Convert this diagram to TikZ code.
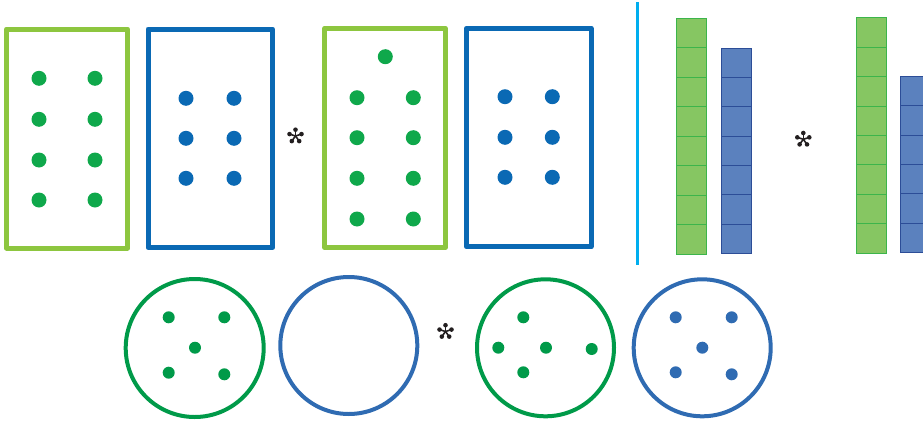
\documentclass[tikz,border=0pt]{standalone}
\definecolor{lgreen}{HTML}{8DC63F}
\definecolor{dgreen}{HTML}{0FA84B}
\definecolor{cgreen}{HTML}{009A49}
\definecolor{rblue}{HTML}{0A69B4}
\definecolor{cblue}{HTML}{2F6BB2}
\definecolor{divblue}{HTML}{00AEEF}
\definecolor{bgfill}{HTML}{86C662}
\definecolor{bgline}{HTML}{3CB54B}
\definecolor{bbfill}{HTML}{5B81BE}
\definecolor{bbline}{HTML}{2C4D97}
\definecolor{ink}{HTML}{231F20}
\tikzset{
  rectg/.style={draw=lgreen,line width=5pt,line join=round},
  rectb/.style={draw=rblue,line width=5pt,line join=round},
  circg/.style={draw=cgreen,line width=4pt},
  circb/.style={draw=cblue,line width=4pt},
  dotg/.style={fill=dgreen},
  dotb/.style={fill=rblue},
  cdotg/.style={fill=cgreen},
  cdotb/.style={fill=cblue},
  barg/.style={fill=bgfill,draw=bgline,line width=1pt},
  barb/.style={fill=bbfill,draw=bbline,line width=1pt},
  pics/opstar/.style={code={
    \foreach \a in {270,342,54,126,198}{
      \draw[ink,line width=1.6pt] (0,0)--(\a:5.5);
      \fill[ink] (\a:6.3) circle (2.3);}
  }}
}
\begin{document}
\begin{tikzpicture}[x=1pt,y=-1pt]
\useasboundingbox (0,0) rectangle (923,423);
\clip (0,0) rectangle (923,423);
% top-left rectangles
\draw[rectg] (6.5,29) rectangle (127.5,248);
\foreach \y in {78.3,119.3,160,200}{
  \fill[dotg] (39,\y) circle (7.5);
  \fill[dotg] (95,\y) circle (7.5);}
\draw[rectb] (148,29) rectangle (272.7,247.5);
\foreach \y in {98.3,138.3,178.3}{
  \fill[dotb] (186,\y) circle (7.5);
  \fill[dotb] (234,\y) circle (7.5);}
\pic at (295.5,136) {opstar};
\draw[rectg] (324.8,28.2) rectangle (445.2,247.7);
\fill[dotg] (385.3,56.7) circle (7.5);
\foreach \y in {97.7,137.7,178.3,219}{
  \fill[dotg] (357,\y) circle (7.5);
  \fill[dotg] (413.3,\y) circle (7.5);}
\draw[rectb] (466.5,28.2) rectangle (591,246.8);
\foreach \y in {96.7,137.3,177.3}{
  \fill[dotb] (505,\y) circle (7.5);
  \fill[dotb] (552.3,\y) circle (7.5);}
% divider
\draw[divblue,line width=3pt] (637.5,2) -- (637.5,265);
% bars
\draw[barg] (676.7,18.3) rectangle (706.7,254);
\foreach \i in {1,...,7}{\draw[bgline,line width=1pt] (676.7,18.3+\i*29.46) -- (706.7,18.3+\i*29.46);}
\draw[barb] (721,48.3) rectangle (751,253.3);
\foreach \i in {1,...,6}{\draw[bbline,line width=1pt] (721,48.3+\i*29.29) -- (751,48.3+\i*29.29);}
\pic at (803.3,139.3) {opstar};
\draw[barg] (856,17.7) rectangle (886,253.3);
\foreach \i in {1,...,7}{\draw[bgline,line width=1pt] (856,17.7+\i*29.45) -- (886,17.7+\i*29.45);}
\draw[barb] (900.7,76.7) rectangle (930.7,252.3);
\foreach \i in {1,...,5}{\draw[bbline,line width=1pt] (900.7,76.7+\i*29.27) -- (930.7,76.7+\i*29.27);}
% circles
\draw[circg] (194.7,348) circle (69);
\foreach \p in {(168.7,317.3),(224.3,317.3),(195,347.7),(168.7,372.7),(224.3,374.3)}{
  \fill[cdotg] \p circle (6);}
\draw[circb] (348.8,345.5) circle (68.5);
\pic at (445.5,331.5) {opstar};
\draw[circg] (545.5,347.8) circle (68.5);
\foreach \p in {(523.3,317.3),(498.3,347.7),(546,347.7),(591.7,349),(523.3,372.3)}{
  \fill[cdotg] \p circle (6);}
\draw[circb] (702.2,347.8) circle (68.5);
\foreach \p in {(675.7,317.3),(731.7,317.3),(702.3,347.7),(675.7,372.3),(731.7,374.3)}{
  \fill[cdotb] \p circle (6);}
\end{tikzpicture}
\end{document}
